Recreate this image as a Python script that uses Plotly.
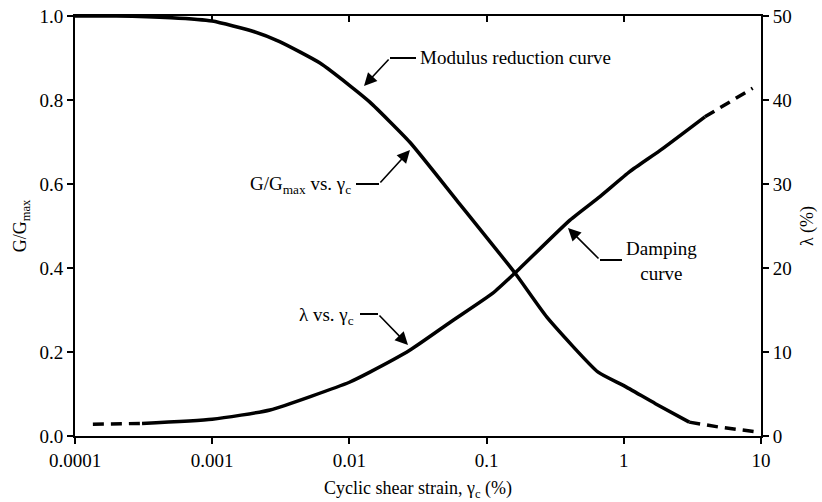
import plotly.graph_objects as go

# ---- data ----
g_strain_solid = [0.0001, 0.0002, 0.0005, 0.001, 0.002, 0.0031, 0.0061, 0.01, 0.0141,
                  0.0275, 0.061, 0.161, 0.275, 0.65, 1.0, 1.7, 3.0]
g_ratio_solid = [1.0, 1.0, 0.996, 0.988, 0.963, 0.939, 0.888, 0.835, 0.795,
                 0.70, 0.56, 0.388, 0.283, 0.152, 0.12, 0.077, 0.033]
g_strain_dash = [3.0, 5.0, 9.3]
g_ratio_dash = [0.033, 0.021, 0.01]

d_strain_dash1 = [0.000135, 0.000308]
d_ratio_dash1 = [1.4, 1.5]
d_strain_solid = [0.000308, 0.001, 0.00264, 0.01, 0.0141, 0.0275, 0.055, 0.111, 0.161,
                  0.405, 0.67, 1.11, 1.84, 3.9]
d_ratio_solid = [1.5, 2.0, 3.1, 6.4, 7.6, 10.2, 13.6, 17.0, 19.4,
                 25.7, 28.5, 31.5, 34.0, 38.0]
d_strain_dash2 = [3.9, 8.7]
d_ratio_dash2 = [38.0, 41.4]

x_ticks = [0.0001, 0.001, 0.01, 0.1, 1, 10]
x_tick_labels = ["0.0001", "0.001", "0.01", "0.1", "1", "10"]

FONT = "Liberation Serif"
W, H = 822, 502
L, R, T, B = 75, 761, 16, 436


def px(xp):
    return (xp - L) / (R - L)


def py(yp):
    return (B - yp) / (B - T)


fig = go.Figure()
line_style = dict(color="black", width=3.5)
dash_style = dict(color="black", width=3.5, dash="11px,7px")

fig.add_trace(go.Scatter(x=g_strain_solid, y=g_ratio_solid, mode="lines",
                         line=dict(**line_style, shape="spline", smoothing=0.5),
                         showlegend=False, hoverinfo="skip"))
fig.add_trace(go.Scatter(x=g_strain_dash, y=g_ratio_dash, mode="lines",
                         line=dash_style, showlegend=False, hoverinfo="skip"))
fig.add_trace(go.Scatter(x=d_strain_dash1, y=d_ratio_dash1, mode="lines", yaxis="y2",
                         line=dash_style, showlegend=False, hoverinfo="skip"))
fig.add_trace(go.Scatter(x=d_strain_solid, y=d_ratio_solid, mode="lines", yaxis="y2",
                         line=dict(**line_style, shape="spline", smoothing=0.5),
                         showlegend=False, hoverinfo="skip"))
fig.add_trace(go.Scatter(x=d_strain_dash2, y=d_ratio_dash2, mode="lines", yaxis="y2",
                         line=dash_style, showlegend=False, hoverinfo="skip"))
# invisible trace to activate the top axis
fig.add_trace(go.Scatter(x=[0.0001], y=[0], xaxis="x2", mode="markers",
                         marker=dict(opacity=0), showlegend=False, hoverinfo="skip"))

axis_font = dict(family=FONT, size=19, color="black")
title_font = dict(family=FONT, size=18, color="black")

fig.update_layout(
    width=W, height=H,
    margin=dict(l=L, r=W - R, t=T, b=H - B, pad=0, autoexpand=False),
    paper_bgcolor="white", plot_bgcolor="white",
    font=dict(family=FONT, size=18, color="black"),
    xaxis=dict(type="log", range=[-4, 1], tickvals=x_ticks, ticktext=x_tick_labels,
               showgrid=False, zeroline=False, showline=True, linecolor="black", linewidth=2,
               ticks="outside", ticklen=6, tickwidth=2, tickcolor="black",
               tickfont=axis_font, automargin=False,
               title=dict(text="Cyclic shear strain, γ<sub>c</sub> (%)",
                          font=title_font, standoff=12)),
    xaxis2=dict(type="log", range=[-4, 1], tickvals=x_ticks, overlaying="x", side="top",
                showticklabels=False, showgrid=False, zeroline=False, showline=True,
                linecolor="black", linewidth=2, ticks="inside", ticklen=6, tickwidth=2,
                tickcolor="black", automargin=False),
    yaxis=dict(range=[0, 1.0], dtick=0.2, tick0=0, tickformat=".1f", showgrid=False,
               zeroline=False, showline=True, linecolor="black", linewidth=2,
               ticks="outside", ticklen=6, tickwidth=2, tickcolor="black",
               tickfont=axis_font, automargin=False,
               title=dict(text="G/G<sub>max</sub>", font=title_font, standoff=8)),
    yaxis2=dict(range=[0, 50], dtick=10, tick0=0, overlaying="y", side="right",
                showgrid=False, zeroline=False, showline=True, linecolor="black",
                linewidth=2, ticks="outside", ticklen=6, tickwidth=2, tickcolor="black",
                tickfont=axis_font, automargin=False,
                title=dict(text="λ (%)", font=title_font, standoff=10)),
)

# leader lines (horizontal parts)
segments = [((390, 58), (416, 58)),
            ((356, 184), (379, 184)),
            ((360, 314), (378, 314)),
            ((600, 260), (622, 260))]
for (x0, y0), (x1, y1) in segments:
    fig.add_shape(type="line", xref="paper", yref="paper",
                  x0=px(x0), y0=py(y0), x1=px(x1), y1=py(y1),
                  line=dict(color="black", width=2))

# arrows: (tail, tip)
arrows = [((390, 58), (364, 86)),
          ((379, 184), (410, 150)),
          ((378, 314), (408, 345)),
          ((600, 260), (568, 228))]
for (tx, ty), (hx, hy) in arrows:
    fig.add_annotation(xref="paper", yref="paper", x=px(hx), y=py(hy),
                       ax=tx - hx, ay=ty - hy, axref="pixel", ayref="pixel",
                       text="", showarrow=True, arrowhead=2, arrowsize=1.6,
                       arrowwidth=1.6, arrowcolor="black", standoff=0)

label_font = dict(family=FONT, size=19, color="black")
fig.add_annotation(xref="paper", yref="paper", x=px(418), y=py(58),
                   xanchor="left", yanchor="middle", showarrow=False,
                   text="Modulus reduction curve", font=label_font)
fig.add_annotation(xref="paper", yref="paper", x=px(353), y=py(185),
                   xanchor="right", yanchor="middle", showarrow=False,
                   text="G/G<sub>max</sub> vs. γ<sub>c</sub>", font=label_font)
fig.add_annotation(xref="paper", yref="paper", x=px(356), y=py(316),
                   xanchor="right", yanchor="middle", showarrow=False,
                   text="λ vs. γ<sub>c</sub>", font=label_font)
fig.add_annotation(xref="paper", yref="paper", x=px(661), y=py(261),
                   xanchor="center", yanchor="middle", showarrow=False,
                   text="Damping<br>curve", font=label_font)

fig.write_html("out.html", config={"displayModeBar": False},
               post_script="document.body.style.margin='0';document.body.style.overflow='hidden';")
